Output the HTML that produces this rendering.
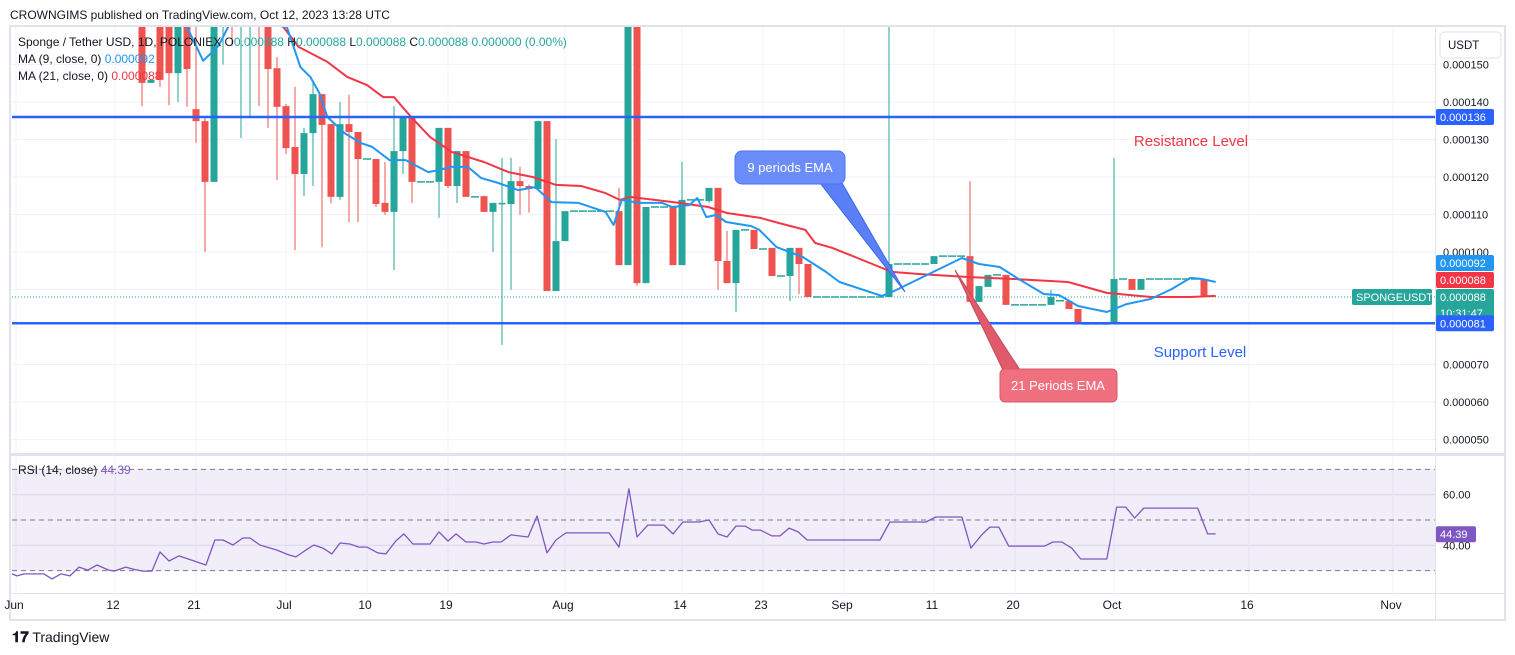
<!DOCTYPE html>
<html><head><meta charset="utf-8">
<style>
html,body{margin:0;padding:0;background:#fff;width:1515px;height:655px;overflow:hidden;font-family:"Liberation Sans",sans-serif;}
svg{display:block}
</style></head>
<body>
<svg id="chart" width="1515" height="655" viewBox="0 0 1515 655" xmlns="http://www.w3.org/2000/svg" font-family="Liberation Sans, sans-serif">
<defs><clipPath id="mainClip"><rect x="12" y="27" width="1423" height="426"/></clipPath>
<clipPath id="rsiClip"><rect x="12" y="456" width="1423" height="137"/></clipPath></defs>
<text x="10" y="19" font-size="12" fill="#131722">CROWNGIMS published on TradingView.com, Oct 12, 2023 13:28 UTC</text>
<rect x="10" y="26" width="1495" height="594" fill="#fff" stroke="#e0e3eb" stroke-width="2"/>
<g id="grid"></g>
<rect x="12" y="469" width="1423" height="102" fill="#7e57c2" fill-opacity="0.1"/>
<g id="main" clip-path="url(#mainClip)"></g>
<g id="rsi" clip-path="url(#rsiClip)"></g>
<g id="axes"></g>
<g id="annot"></g>
<text x="12" y="642" font-size="14" fill="#131722"><tspan font-weight="bold" font-size="15">𝟏𝟕</tspan> TradingView</text>
</svg>
<script>
// ---- data ----
const cDay=[14,15,16,17,18,19,20,21,22,23,24,25,26,27,28,29,30,31,32,33,34,35,36,37,38,39,40,41,42,43,44,45,46,47,48,49,50,51,52,53,54,55,56,57,58,59,60,61,62,63,64,65,66,67,68,69,70,71,72,73,74,75,76,77,78,79,80,81,82,83,84,85,86,87,88,89,90,91,92,93,94,95,96,97,98,99,100,101,102,103,104,105,106,107,108,109,110,111,112,113,114,115,116,117,118,119,120,121,122,123,124,125,126,127,128,129,130,131,132];
const cO=[165,145.1,165,162,147.7,162,138.1,134.9,118.7,160,170,165,165,170,165,149,138.9,128,120.8,131.7,142.1,134.1,114.7,134.1,132,124.8,124.8,113.1,110.7,126.9,136,118.7,118.7,118.7,133.1,117.6,126.9,114.7,114.9,110.7,113.1,112.8,118.9,117.6,116.8,134.9,89.6,102.9,110.9,110.9,110.9,110.9,110.9,110.9,96.5,175,91.7,112,112,112,96.5,113.9,113.9,113.6,117.1,97.6,91.7,105.9,105.9,100.8,101.1,93.6,93.6,101.1,96.8,88,88,88,88,88,88,88,88,88,96.8,96.8,96.8,96.8,96.8,98.9,98.9,98.9,98.9,86.7,90.7,93.9,93.9,85.9,85.9,85.9,85.9,85.9,87,86.9,84.8,80.8,80.8,80.8,80.8,92.8,92.8,89.9,92.8,92.8,92.8,92.8,92.8,92.8,92.8];
const cH=[168,146,168,165,165,165,165,136,168,175,172,172,172,172,168,152,139.5,144,133.1,145.9,142.1,134.1,140,141.9,132,124.8,124.8,124,138.9,136,136,118.7,118.7,133.1,133.1,126.9,127,114.7,115,113.1,125.1,125.1,122.7,118,135,134.9,130.1,110.9,110.9,110.9,110.9,110.9,110.9,117.1,180,180,112,112,112,112,124,113.9,113.9,117.1,117.1,105.6,105.9,105.9,105.9,100.8,101.1,93.6,101.1,101.1,96.8,88,88,88,88,88,88,88,88,165,96.8,96.8,96.8,96.8,98.9,98.9,98.9,98.9,118.9,90.9,93.9,93.9,93.9,85.9,85.9,85.9,85.9,89.9,87,86.9,84.8,80.8,80.8,80.8,125.1,92.8,92.8,92.8,92.8,92.8,92.8,92.8,92.8,92.8,92.8];
const cL=[138.9,145.1,144,139.2,140,138.7,129.1,100,118.7,150,155,130.4,136,138.9,133.1,119.2,126.1,100.5,114.9,117.6,101.3,113,113.9,108,108,124.8,112,109.9,95.2,120.8,113.1,118.7,118.7,109.1,117,113.1,114.7,114.7,110.7,100,75.2,89.9,109.9,110.5,116.8,89.6,89.6,102.9,110.9,110.9,110.9,110.9,110.9,96.5,96.5,91,91.7,112,112,96.5,96.5,113.9,113.9,113.1,89.9,91.7,84,105.9,100.8,100.8,93.6,93.6,86.9,88.8,88,88,88,88,88,88,88,88,88,88,96.8,96.8,96.8,96.8,96.8,98.9,98.9,98.9,86.7,86.7,90.7,93.9,85.9,85.9,85.9,85.9,85.9,85.9,87,84.8,80.8,80.8,80.8,80.8,80.8,92.8,89.9,89.9,92.8,92.8,92.8,92.8,92.8,92.8,88];
const cC=[145.1,145.9,145.9,147.7,162,148.8,134.9,118.7,165,170,162,170,170,162,148.8,138.7,127.7,120.8,131.7,142.1,133.9,114.7,134.1,132,124.8,124.8,112.8,110.7,126.9,136,118.7,118.7,118.7,133.1,117.6,126.9,114.7,114.7,110.7,113.1,113.1,118.9,117.6,116.8,134.9,89.6,102.9,110.9,110.9,110.9,110.9,110.9,110.9,96.5,175,91.7,112,112,112,96.5,113.9,113.9,113.9,117.1,97.6,91.7,105.9,105.9,100.8,100.8,93.6,93.6,101.1,96.8,88,88,88,88,88,88,88,88,88,96.8,96.8,96.8,96.8,96.8,98.9,98.9,98.9,98.9,86.7,90.9,93.9,93.9,85.9,85.9,85.9,85.9,85.9,88,87,84.8,80.8,80.8,80.8,80.8,92.8,92.8,89.9,92.8,92.8,92.8,92.8,92.8,92.8,92.8,88];
const ma9Day=[16,19,20.8,22.5,24,30.1,31.6,32.7,33.7,34.6,36.5,38.3,39.6,41.5,43.3,45.8,47.1,48.3,50.2,51.7,53.6,55.8,57.7,59.5,62.5,65.5,66.4,67.3,69.2,71.8,72.9,74.8,75.7,76.7,77.8,78.9,81.7,82.6,84.5,87.4,90,91.5,96.2,97.3,105.1,107,109.3,111.4,114.2,115.9,118,121.2,123.4,126.1,128.4,130.5,131.8,133.3];
const ma9Val=[165,160,151,155,162,160,149.3,146.7,142.4,136,131.7,129.1,128,124.5,124.5,121.3,121.9,122.7,122.7,119.7,118.4,116.5,117.3,113.3,113.1,110.7,107.2,113.9,113.1,113.1,112,112.5,114.4,109.3,109.9,108,106.9,105.9,101.3,98.7,94.7,92,88.3,89.3,98.4,96.8,96,92.8,88.8,88.5,85.6,84,86.1,87.5,90.1,93.1,92.8,92];
const ma21Day=[26,29.7,31.4,34.6,36.8,39,40.8,42,43.9,46,48.4,52,54.7,57.4,60,62.8,65.5,67.1,68.2,73.7,76.9,79,82.7,84.8,87.7,88.8,90.7,93.5,97.3,100.5,106,110.9,116.9,121.2,126.1,130.5,133.3];
const ma21Val=[168,160,154.7,150.7,146.7,144.5,141.3,141.3,136,130.7,126.7,124,121.3,120,117.9,117.6,115.7,113.9,114.7,113.1,112,110.4,109.1,107.7,105.9,102.4,101.1,98.4,94.7,94.1,93.3,92.8,92,89.1,88,88,88.3];
const rsiDay=[-0.7,0.1,0.9,3.1,4,5,6,7,8,9,10.3,10.9,12.2,13,14.1,15.1,16,17,18.1,19.8,21.1,22.1,23,24.1,25.2,26,27.1,29,30.3,31.1,32.2,33.1,34.1,35.1,36,37.1,38.1,39,40.2,41.1,42.2,43.1,44.1,46,47,48,48.9,50,51.1,52,53,53.9,55,56.9,57.9,59,60,61.1,65.9,67,68.1,69,70.2,72,73,74.1,75.9,77,78,79,80,81,81.8,82.7,84,84.9,85.9,86.9,87.9,96,97.1,101.1,102.2,105.1,106.1,107.3,108.2,109.2,110.3,114.3,115.2,116.2,117.3,118.3,121.2,122.3,123.3,124.3,125.3,131.3,132.4,133.3];
const rsiVal=[29.1,27.9,28.7,28.7,26.7,28.7,27.9,31.4,30.2,32.2,30.2,29.8,31.4,30.6,29.8,29.8,37.4,33.8,35.8,33.8,32.2,42.1,42.1,40.1,42.9,42.9,40.1,38.1,36.2,35.4,38.1,40.1,38.9,36.6,40.9,40.5,39.3,39.3,37,36.6,41.7,44.5,40.5,40.5,45.3,41.7,44.5,41.3,41.3,40.5,41.3,41.3,44.1,43.3,51.6,37,42.1,44.9,44.9,39.3,62.3,43.3,48,48,44.5,49.2,49.2,50,44.5,43.3,47.6,47.6,46,46,43.7,43.7,46.8,45.3,42.1,42.1,49.2,49.2,51.2,51.2,38.9,44.1,47.2,47.2,39.7,39.7,41.3,41.3,38.9,34.6,34.6,55.1,55.1,50.8,54.7,54.7,44.5,44.5];
const priceTicks=[150,140,130,120,110,100,70,60,50];
const gridPrices=[150,140,130,120,110,100,90,80,70,60,50];
const tickDays=[0,11,20,30,39,48,61,74,83,92,102,111,122,137,153];
const tickLabels=["Jun","12","21","Jul","10","19","Aug","14","23","Sep","11","20","Oct","16","Nov"];
const resistance=136, support=81, lastPrice=88;
// ---- scales ----
const NS="http://www.w3.org/2000/svg";
const xD=d=>16+9*d;
const yP=v=>102+(140-v)*3.75;
const yR=v=>520-(v-50)*2.53;
function mk(tag,attrs,parent,txt){const e=document.createElementNS(NS,tag);for(const k in attrs)e.setAttribute(k,attrs[k]);if(txt!==undefined)e.textContent=txt;parent.appendChild(e);return e;}
const grid=document.getElementById('grid'),main=document.getElementById('main'),rsi=document.getElementById('rsi'),axes=document.getElementById('axes'),annot=document.getElementById('annot');
gridPrices.forEach(p=>{const l=mk('line',{x1:12,x2:1435,y1:yP(p),y2:yP(p),stroke:'#f0f3fa','stroke-width':1},grid);

});
[40,60].forEach(v=>{const l=mk('line',{x1:12,x2:1435,y1:yR(v),y2:yR(v),stroke:'#e6e3f0','stroke-width':1},grid);

});
tickDays.forEach((d,i)=>{const l=mk('line',{x1:xD(d),x2:xD(d),y1:27,y2:593,stroke:'#f0f3fa','stroke-width':1},grid);


const t=mk('text',{x:xD(d)-2,y:609,'font-size':12,fill:'#131722','text-anchor':'middle'},axes,tickLabels[i]);

});
mk('line',{x1:10,x2:1505,y1:454.5,y2:454.5,stroke:'#e0e3eb','stroke-width':3},axes);
mk('line',{x1:10,x2:1505,y1:593.5,y2:593.5,stroke:'#e0e3eb','stroke-width':1},axes);
mk('line',{x1:1435.5,x2:1435.5,y1:27,y2:620,stroke:'#e0e3eb','stroke-width':1},axes);
[70,50,30].forEach(v=>{const l=mk('line',{x1:12,x2:1435,y1:yR(v),y2:yR(v),stroke:'#787b86','stroke-width':1,'stroke-dasharray':'5,4'},rsi);

});
mk('line',{x1:12,x2:1435,y1:yP(lastPrice),y2:yP(lastPrice),stroke:'#26a69a','stroke-width':1,'stroke-dasharray':'1,2'},main);
cDay.forEach((d,i)=>{const o=cO[i],c=cC[i],h=cH[i],l=cL[i];const up=c>=o;const col=up?'#26a69a':'#ef5350';const x=xD(d);
const g=mk('g',{},main);


if(o===c&&h===l){mk('line',{x1:x-4,x2:x+4,y1:yP(o),y2:yP(o),stroke:'#26a69a','stroke-width':1.5},g);return;}
mk('line',{x1:x,x2:x,y1:yP(h),y2:yP(l),stroke:col,'stroke-width':1},g);
const t=yP(Math.max(o,c)),b=yP(Math.min(o,c));
mk('rect',{x:x-3.5,y:t,width:7,height:Math.max(1.5,b-t),fill:col},g);});
function line(days,vals,col,name,parent,yf,w){const pts=days.map((d,i)=>xD(d).toFixed(1)+','+yf(vals[i]).toFixed(1)).join(' ');
const p=mk('polyline',{points:pts,fill:'none',stroke:col,'stroke-width':w,'stroke-linejoin':'round'},parent);

}
line(ma21Day,ma21Val,'#f23645','ma21-line',main,yP,2);
line(ma9Day,ma9Val,'#2196f3','ma9-line',main,yP,2);
line(rsiDay,rsiVal,'#7e57c2','rsi-line',rsi,yR,1.3);
[[resistance,'resistance-line'],[support,'support-line']].forEach(([v,n])=>{const l=mk('line',{x1:12,x2:1435,y1:yP(v),y2:yP(v),stroke:'#2962ff','stroke-width':2.5},main);

});
priceTicks.forEach(p=>{const t=mk('text',{x:1443,y:yP(p)+4,'font-size':11,fill:'#131722'},axes,(p/1e6).toFixed(6));

});
function tag(y,h,bg,txt,name,x,w){const g=mk('g',{},axes);


mk('rect',{x:x,y:y,width:w,height:h,fill:bg,rx:2},g);mk('text',{x:x+4,y:y+12,'font-size':11,fill:'#fff'},g,txt);}
tag(yP(resistance)-8,16,'#2962ff','0.000136','resistance-price-tag',1436,58);
tag(255,16,'#2196f3','0.000092','ma9-price-tag',1436,58);
tag(272,16,'#f23645','0.000088','ma21-price-tag',1436,58);
tag(289,32,'#26a69a','0.000088','last-price-tag',1436,58);
mk('text',{x:1440,y:317,'font-size':11,fill:'#fff'},axes,'10:31:47');
tag(yP(support)-8,16,'#2962ff','0.000081','support-price-tag',1436,58);
tag(289,16,'#26a69a','SPONGEUSDT','symbol-tag',1352,80);
const rt=mk('g',{},axes);


mk('text',{x:1443,y:yR(60)+4,'font-size':11,fill:'#131722'},axes,'60.00');
mk('text',{x:1443,y:yR(40)+4,'font-size':11,fill:'#131722'},axes,'40.00');
mk('rect',{x:1436,y:yR(44.39)-8,width:40,height:16,fill:'#7e57c2',rx:2},rt);
mk('text',{x:1440,y:yR(44.39)+4,'font-size':11,fill:'#fff'},rt,'44.39');
</script>
<svg style="position:absolute;left:0;top:0" width="1515" height="655" xmlns="http://www.w3.org/2000/svg" font-family="Liberation Sans, sans-serif">
<g font-size="12">
<text x="18" y="46" fill="#131722">Sponge / Tether USD, 1D, POLONIEX  O<tspan fill="#26a69a">0.000088</tspan>  H<tspan fill="#26a69a">0.000088</tspan>  L<tspan fill="#26a69a">0.000088</tspan>  C<tspan fill="#26a69a">0.000088  0.000000 (0.00%)</tspan></text>
<text x="18" y="63" fill="#131722">MA (9, close, 0)  <tspan fill="#2196f3">0.000092</tspan></text>
<text x="18" y="80" fill="#131722">MA (21, close, 0)  <tspan fill="#f23645">0.000088</tspan></text>
<text x="18" y="474" fill="#131722">RSI (14, close)  <tspan fill="#7e57c2">44.39</tspan></text>
</g>
<g>
<rect x="1440" y="32" width="61" height="26" rx="4" fill="#fff" stroke="#e0e3eb"/>
<text x="1448" y="49" font-size="11.5" fill="#131722">USDT</text>
</g>
<g>
<polygon points="820,183 842,183 905,292" fill="#5b7ff7" stroke="#3b67ee" stroke-width="1"/>
<rect x="735" y="151" width="110" height="33" rx="7" fill="#6b8dfb" stroke="#4a74f0"/>
<text x="790" y="172" font-size="13" fill="#fff" text-anchor="middle">9 periods EMA</text>
</g>
<g>
<polygon points="1003,370 1020,370 955,270" fill="#e05a6c" stroke="#c04a5a" stroke-width="1"/>
<rect x="1000" y="369" width="117" height="33" rx="5" fill="#f07080" stroke="#d95868"/>
<text x="1058" y="390" font-size="13" fill="#fff" text-anchor="middle">21 Periods EMA</text>
</g>
<text x="1191" y="146" font-size="15" fill="#f23645" text-anchor="middle">Resistance Level</text>
<text x="1200" y="357" font-size="15" fill="#2962ff" text-anchor="middle">Support Level</text>
</svg>
</body></html>
